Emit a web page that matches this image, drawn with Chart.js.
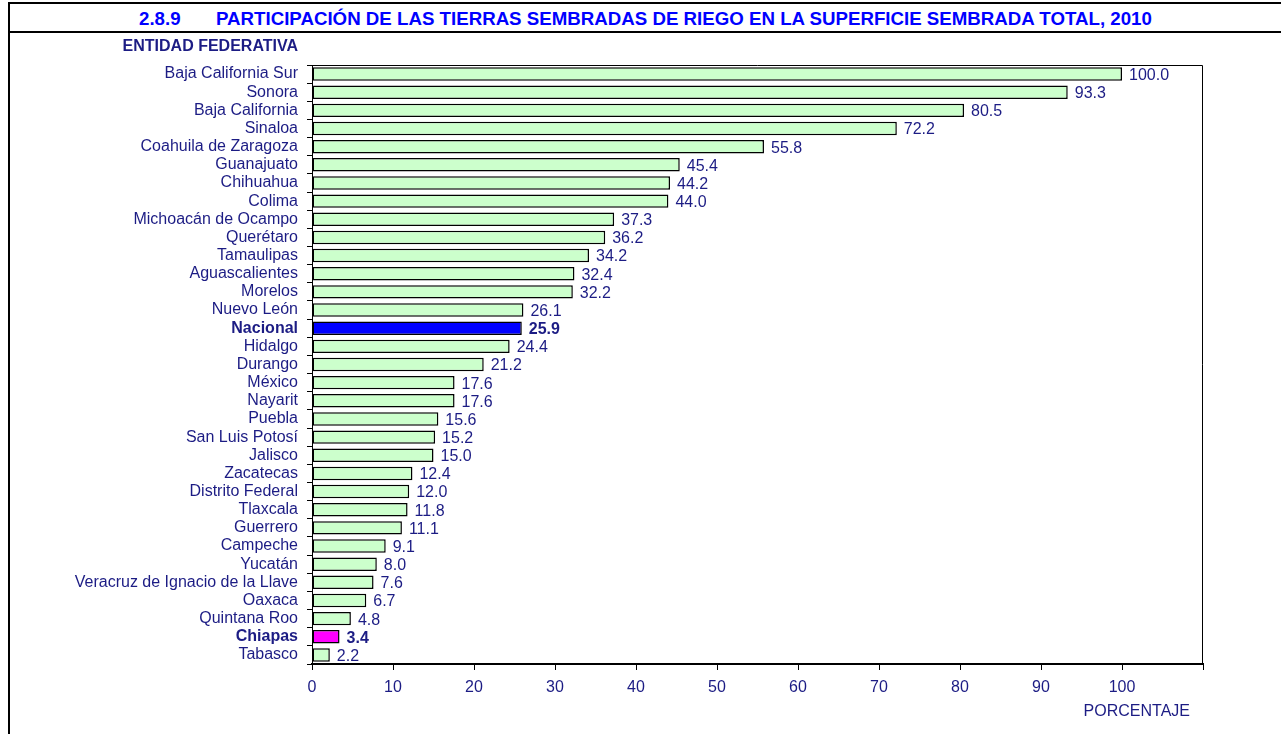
<!DOCTYPE html>
<html lang="es">
<head>
<meta charset="utf-8">
<title>Tierras sembradas de riego 2010</title>
<script src="https://cdn.jsdelivr.net/npm/chart.js@4.4.1/dist/chart.umd.min.js"></script>
<style>
  html, body { margin: 0; padding: 0; background: #fff; overflow: hidden; }
  body { width: 1281px; height: 734px; position: relative; font-family: 'Liberation Sans', Arial, sans-serif; }
  #frame {
    position: absolute; left: 8px; top: 2px; width: 1290px; height: 760px;
    border-left: 2px solid #000; border-top: 2px solid #000;
  }
  #titlebar {
    position: absolute; left: 10px; top: 4px; width: 1290px; height: 27px;
    border-bottom: 2px solid #000;
  }
  .title {
    position: absolute; top: 4px; color: #0000ff; font-weight: bold; font-size: 18.7px;
    line-height: 22px; white-space: nowrap;
  }
  #wrap { position: absolute; left: 0; top: 0; width: 1281px; height: 734px; }
</style>
</head>
<body>
<div id="frame"></div>
<div id="titlebar">
  <span class="title" style="left:129px">2.8.9</span>
  <span class="title" style="left:206px">PARTICIPACIÓN DE LAS TIERRAS SEMBRADAS DE RIEGO EN LA SUPERFICIE SEMBRADA TOTAL, 2010</span>
</div>
<div id="wrap"><canvas id="chart" width="1281" height="734"></canvas></div>
<script>
// entidades ordenadas de mayor a menor participación (%)
const entidades = [
  'Baja California Sur', 'Sonora', 'Baja California', 'Sinaloa', 'Coahuila de Zaragoza',
  'Guanajuato', 'Chihuahua', 'Colima', 'Michoacán de Ocampo', 'Querétaro',
  'Tamaulipas', 'Aguascalientes', 'Morelos', 'Nuevo León', 'Nacional',
  'Hidalgo', 'Durango', 'México', 'Nayarit', 'Puebla',
  'San Luis Potosí', 'Jalisco', 'Zacatecas', 'Distrito Federal', 'Tlaxcala',
  'Guerrero', 'Campeche', 'Yucatán', 'Veracruz de Ignacio de la Llave', 'Oaxaca',
  'Quintana Roo', 'Chiapas', 'Tabasco'
];
const porcentajes = [
  100.0, 93.3, 80.5, 72.2, 55.8,
  45.4, 44.2, 44.0, 37.3, 36.2,
  34.2, 32.4, 32.2, 26.1, 25.9,
  24.4, 21.2, 17.6, 17.6, 15.6,
  15.2, 15.0, 12.4, 12.0, 11.8,
  11.1, 9.1, 8.0, 7.6, 6.7,
  4.8, 3.4, 2.2
];
const destacados = { 'Nacional': '#0000ff', 'Chiapas': '#ff00ff' };
const ejeX = { min: 0, max: 110, paso: 10 };

const NAVY = '#1c1c84';
const FAMILY = "'Liberation Sans', Arial, sans-serif";
const RELLENO = '#ccffcc';

const colores = entidades.map(e => destacados[e] || RELLENO);
const esDestacado = i => entidades[i] in destacados;

// valores a la derecha de cada barra + marco del área de trazado + rótulos de ejes
const etiquetas = {
  id: 'etiquetas',
  afterDatasetsDraw(chart) {
    const { ctx, chartArea } = chart;
    const meta = chart.getDatasetMeta(0);
    ctx.save();
    ctx.fillStyle = NAVY;
    ctx.textBaseline = 'middle';
    ctx.textAlign = 'left';
    meta.data.forEach((bar, i) => {
      ctx.font = (esDestacado(i) ? 'bold ' : '') + '16px ' + FAMILY;
      ctx.fillText(porcentajes[i].toFixed(1), bar.x + 7, bar.y + 1.5);
    });

    // borde superior y derecho
    ctx.strokeStyle = '#000';
    ctx.lineWidth = 1;
    ctx.beginPath();
    ctx.moveTo(chartArea.left, chartArea.top + 0.5);
    ctx.lineTo(chartArea.right - 0.5, chartArea.top + 0.5);
    ctx.lineTo(chartArea.right - 0.5, chartArea.bottom);
    ctx.stroke();

    ctx.font = 'bold 16px ' + FAMILY;
    ctx.textAlign = 'right';
    ctx.fillText('ENTIDAD FEDERATIVA', 298, 47);
    ctx.font = '16px ' + FAMILY;
    ctx.fillText('PORCENTAJE', 1190, 712);
    ctx.restore();
  }
};

new Chart(document.getElementById('chart'), {
  type: 'bar',
  data: {
    labels: entidades,
    datasets: [{
      data: porcentajes,
      backgroundColor: colores,
      borderColor: '#000',
      borderWidth: 1.5,
      borderSkipped: false,
      barPercentage: 0.74,
      categoryPercentage: 1
    }]
  },
  options: {
    indexAxis: 'y',
    responsive: false,
    animation: false,
    layout: { padding: { top: 65, right: 78, left: 0, bottom: 0 } },
    plugins: { legend: { display: false }, tooltip: { enabled: false } },
    scales: {
      x: {
        min: ejeX.min,
        max: ejeX.max,
        afterFit: s => { s.height = 70; },
        grid: { drawOnChartArea: false, color: '#000', tickLength: 6 },
        border: { color: '#000', width: 2 },
        ticks: {
          stepSize: ejeX.paso,
          color: NAVY,
          padding: 8,
          font: { family: FAMILY, size: 16 },
          callback: v => (v >= ejeX.max ? '' : v)
        }
      },
      y: {
        afterFit: s => { s.width = 312; },
        grid: { drawOnChartArea: false, color: '#000', tickLength: 5, offset: true },
        border: { color: '#000', width: 1 },
        ticks: {
          autoSkip: false,
          color: NAVY,
          padding: 9,
          font: c => ({ family: FAMILY, size: 16, weight: esDestacado(c.index) ? 'bold' : 'normal' })
        }
      }
    }
  },
  plugins: [etiquetas]
});
</script>
</body>
</html>
